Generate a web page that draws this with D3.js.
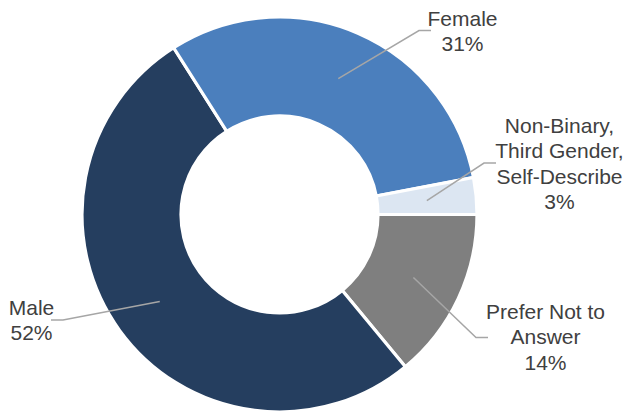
<!DOCTYPE html>
<html>
<head>
<meta charset="utf-8">
<script src="https://cdn.jsdelivr.net/npm/d3@7"></script>
<style>
  html, body { margin: 0; padding: 0; background: #fff; }
  svg { display: block; }
  .lbl { font-family: "Liberation Sans", Arial, sans-serif; font-size: 21px; fill: #404040; }
</style>
</head>
<body>
<svg id="chart" width="631" height="414"></svg>
<script>
// Survey responses by gender (share of respondents, %)
const categories = ["Prefer Not to Answer", "Male", "Female", "Non-Binary, Third Gender, Self-Describe"];
const shares = [14, 52, 31, 3];
const labelLines = [
  ["Prefer Not to", "Answer", "14%"],
  ["Male", "52%"],
  ["Female", "31%"],
  ["Non-Binary,", "Third Gender,", "Self-Describe", "3%"]
];
const colors = ["#7f7f7f", "#253e5f", "#4b7fbd", "#dce6f2"];

// Layout
const width = 631, height = 414;
const cx = 279.5, cy = 214.5;
const outerR = 197.5, innerR = 98.5;
const startAngle = Math.PI / 2;   // first slice begins at 3 o'clock
const lineH = 25.3;
// label anchor (centre x, first baseline) and leader elbow, relative to centre
const labelLayout = [
  { tx: 266, ty: 104.5, ex: 196.5, ey: 123, dir: 1 },
  { tx: -248, ty: 100.5, ex: -216.5, ey: 105.5, dir: -1 },
  { tx: 183, ty: -189, ex: 139.5, ey: -184, dir: 1 },
  { tx: 280, ty: -81.5, ex: 204.5, ey: -51.5, dir: 1 }
];

const svg = d3.select("#chart");
const g = svg.append("g").attr("transform", `translate(${cx},${cy})`);

const pie = d3.pie()
  .sort(null)
  .value(d => d)
  .startAngle(startAngle)
  .endAngle(startAngle + 2 * Math.PI);

const arc = d3.arc().innerRadius(innerR).outerRadius(outerR);
const arcs = pie(shares);

g.selectAll("path.slice")
  .data(arcs)
  .join("path")
  .attr("class", "slice")
  .attr("d", arc)
  .attr("fill", (d, i) => colors[i])
  .attr("stroke", "#fff")
  .attr("stroke-width", 3.2)
  .attr("stroke-linejoin", "miter");

// Leader lines from slice centroid to label
g.selectAll("polyline.leader")
  .data(arcs)
  .join("polyline")
  .attr("class", "leader")
  .attr("fill", "none")
  .attr("stroke", "#a6a6a6")
  .attr("stroke-width", 1.5)
  .attr("points", (d, i) => {
    const c = arc.centroid(d);
    const L = labelLayout[i];
    return [c, [L.ex, L.ey], [L.ex + 12 * L.dir, L.ey]].map(p => p.join(",")).join(" ");
  });

// Labels
const labels = g.selectAll("text.lbl")
  .data(arcs)
  .join("text")
  .attr("class", "lbl")
  .attr("text-anchor", "middle")
  .attr("x", (d, i) => labelLayout[i].tx)
  .attr("y", (d, i) => labelLayout[i].ty);

labels.each(function(d, i) {
  const t = d3.select(this);
  labelLines[i].forEach((s, k) => {
    t.append("tspan")
      .attr("x", labelLayout[i].tx)
      .attr("dy", k === 0 ? 0 : lineH)
      .text(s);
  });
});
</script>
</body>
</html>
